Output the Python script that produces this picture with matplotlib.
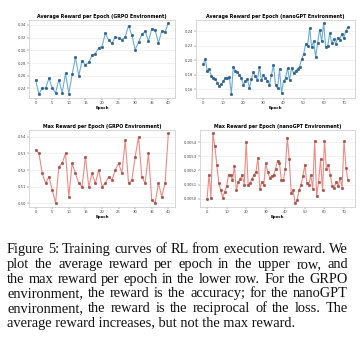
import matplotlib
matplotlib.use("Agg")
import matplotlib.pyplot as plt

# average reward, GRPO environment (epochs 0-40)
grpo_avg = [0.253, 0.231, 0.241, 0.240, 0.256, 0.241, 0.233, 0.254, 0.233, 0.264,
            0.232, 0.262, 0.289, 0.260, 0.284, 0.277, 0.281, 0.292, 0.295, 0.304,
            0.306, 0.327, 0.316, 0.311, 0.321, 0.319, 0.317, 0.321, 0.339, 0.324,
            0.301, 0.313, 0.325, 0.330, 0.315, 0.334, 0.332, 0.312, 0.330, 0.329,
            0.343]

# average reward, nanoGPT environment (epochs 0-72)
nano_avg = [0.194, 0.202, 0.185, 0.188, 0.178, 0.175, 0.174, 0.169, 0.164, 0.167,
            0.171, 0.175, 0.175, 0.177, 0.153, 0.191, 0.185, 0.183, 0.180, 0.175,
            0.166, 0.171, 0.174, 0.161, 0.174, 0.183, 0.178, 0.172, 0.191, 0.172,
            0.179, 0.175, 0.171, 0.166, 0.180, 0.193, 0.166, 0.161, 0.187, 0.155,
            0.171, 0.175, 0.189, 0.172, 0.189, 0.182, 0.185, 0.188, 0.191, 0.201,
            0.208, 0.222, 0.220, 0.244, 0.218, 0.226, 0.204, 0.224, 0.242, 0.226,
            0.251, 0.218, 0.219, 0.237, 0.224, 0.229, 0.222, 0.231, 0.228, 0.236,
            0.230, 0.240, 0.245]

# max reward, GRPO environment
grpo_max = [0.532, 0.530, 0.518, 0.512, 0.516, 0.508, 0.500, 0.522, 0.524, 0.530,
            0.504, 0.524, 0.518, 0.512, 0.510, 0.528, 0.510, 0.518, 0.512, 0.520,
            0.510, 0.512, 0.516, 0.514, 0.520, 0.524, 0.518, 0.538, 0.512, 0.514,
            0.528, 0.540, 0.516, 0.512, 0.530, 0.502, 0.500, 0.512, 0.504, 0.512,
            0.542]

# max reward, nanoGPT environment
nano_max = [0.30500, 0.30517, 0.30501, 0.30546, 0.30537, 0.30524, 0.30511, 0.30506, 0.30501, 0.30505,
            0.30509, 0.30517, 0.30517, 0.30513, 0.30523, 0.30506, 0.30512, 0.30514, 0.30517, 0.30510,
            0.30540, 0.30510, 0.30511, 0.30514, 0.30517, 0.30519, 0.30529, 0.30507, 0.30512, 0.30510,
            0.30525, 0.30519, 0.30515, 0.30516, 0.30517, 0.30521, 0.30527, 0.30525, 0.30513, 0.30513,
            0.30521, 0.30543, 0.30528, 0.30504, 0.30506, 0.30497, 0.30499, 0.30506, 0.30510, 0.30516,
            0.30524, 0.30511, 0.30510, 0.30517, 0.30507, 0.30541, 0.30502, 0.30512, 0.30528, 0.30506,
            0.30541, 0.30521, 0.30524, 0.30517, 0.30509, 0.30508, 0.30512, 0.30509, 0.30515, 0.30508,
            0.30541, 0.30522, 0.30513]

titles = ["Average Reward per Epoch (GRPO Environment)",
          "Average Reward per Epoch (nanoGPT Environment)",
          "Max Reward per Epoch (GRPO Environment)",
          "Max Reward per Epoch (nanoGPT Environment)"]

caption = ["Figure 5: Training curves of RL from execution reward. We",
           "plot the average reward per epoch in the upper row, and",
           "the max reward per epoch in the lower row. For the GRPO",
           "environment, the reward is the accuracy; for the nanoGPT",
           "environment, the reward is the reciprocal of the loss. The",
           "average reward increases, but not the max reward."]

W, H = 360, 353
fig = plt.figure(figsize=(W / 100, H / 100), dpi=100)

# axes boxes in pixels: left, top, right, bottom
boxes = [(29, 19.5, 175, 97.7), (196, 19.5, 355, 97.7),
         (29, 130, 175, 206.7), (200, 130, 355, 206.7)]
series = [grpo_avg, nano_avg, grpo_max, nano_max]
blue = ('#6aaed6', '#2f5f8a')
red = ('#f08a84', '#a8514d')
styles = [blue, blue, red, red]
yfmt = ['%.2f', '%.2f', '%.2f', '%.4f']
xstep = [5, 10, 5, 10]

for i in range(4):
    l, t, r, b = boxes[i]
    ax = fig.add_axes([l / W, 1 - b / H, (r - l) / W, (b - t) / H])
    y = series[i]
    lc, mc = styles[i]
    ax.plot(range(len(y)), y, color=lc, lw=0.8, marker='o', ms=1.9,
            mfc=mc, mec=mc, mew=0.3)
    ax.set_title(titles[i], fontsize=3.4, fontweight='bold', pad=1.2)
    ax.set_xlabel("Epoch", fontsize=2.9, fontweight='bold', labelpad=0.8)
    ax.set_xticks(range(0, len(y) + 1, xstep[i]))
    ax.yaxis.set_major_formatter(matplotlib.ticker.FormatStrFormatter(yfmt[i]))
    if i == 3:
        ax.set_yticks([0.3050, 0.3051, 0.3052, 0.3053, 0.3054])
    ax.tick_params(labelsize=2.7, length=1.2, width=0.3, pad=1.2, colors='#444444')
    ax.grid(axis='y', color='#e6e6e6', lw=0.4)
    ax.set_axisbelow(True)
    for s in ax.spines.values():
        s.set_color('#c8c8c8')
        s.set_linewidth(0.5)

# caption, justified line by line
fig.canvas.draw()
rend = fig.canvas.get_renderer()
x0, x1 = 7, 348
last_end = 296
base0, step = 253, 14.8

# pick the font size so the last (unjustified) line ends where it does in the reference
probe = fig.text(0, 0, caption[-1], fontsize=10, family='Liberation Serif')
fs = 10 * (last_end - x0) / probe.get_window_extent(rend).width
probe.remove()

for k, line in enumerate(caption):
    words = line.split(' ')
    ypos = 1 - (base0 + k * step) / H
    if k == len(caption) - 1:
        fig.text(x0 / W, ypos, line, fontsize=fs, family='Liberation Serif',
                 va='baseline', ha='left', color='#111111')
        continue
    objs = [fig.text(0, ypos, w_, fontsize=fs, family='Liberation Serif',
                     va='baseline', ha='left', color='#111111') for w_ in words]
    widths = [o.get_window_extent(rend).width for o in objs]
    gap = (x1 - x0 - sum(widths)) / (len(words) - 1)
    x = x0
    for o, wd in zip(objs, widths):
        o.set_x(x / W)
        x += wd + gap

fig.savefig("out.png", dpi=100)
